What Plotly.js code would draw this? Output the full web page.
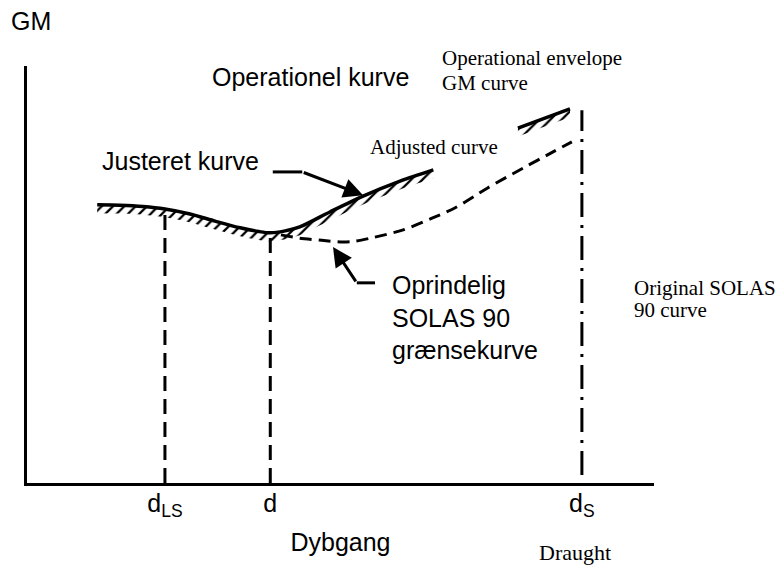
<!DOCTYPE html>
<html>
<head>
<meta charset="utf-8">
<script src="https://cdn.plot.ly/plotly-3.0.1.min.js"></script>
<style>html,body{margin:0;padding:0;background:#fff;}#chart{width:775px;height:566px;}</style>
</head>
<body>
<div id="chart"></div>
<script>
// Draught marks on the x axis
const draughtTicks = [2.2, 3.88, 8.85];
const tickLabels = ['d<sub>LS</sub>', 'd', 'd<sub>S</sub>'];
const markTops = [6.5, 5.92, 8.94];
const markBottoms = [0, 0, 0.19];

// Adjusted (operational) GM curve, two visible pieces
const adjX1 = [1.12, 1.48, 1.85, 2.2, 2.6, 3.0, 3.4, 3.7, 3.88, 4.1, 4.35, 4.83, 5.36, 5.95, 6.48];
const adjY1 = [6.67, 6.66, 6.63, 6.57, 6.45, 6.28, 6.12, 6.03, 6.0, 6.04, 6.14, 6.5, 6.88, 7.24, 7.51];
const adjX2 = [7.83, 8.26, 8.66];
const adjY2 = [8.51, 8.75, 8.97];

// Original SOLAS 90 limit curve
const origX = [4.05, 4.35, 4.7, 5.0, 5.2, 5.47, 6.0, 6.46, 6.83, 7.34, 7.91, 8.39, 8.69];
const origY = [5.95, 5.87, 5.82, 5.78, 5.79, 5.87, 6.07, 6.35, 6.6, 7.07, 7.55, 7.94, 8.18];

const SANS = 'Liberation Sans, Arial, Helvetica, sans-serif';
const SERIF = 'Liberation Serif, Times New Roman, serif';
const hatchDepth = 0.2;

const traces = [];
// vertical marks
draughtTicks.forEach((d, i) => {
  traces.push({
    type: 'scatter', mode: 'lines', x: [d, d], y: [markBottoms[i], markTops[i]],
    line: {color: 'black', width: 3, dash: i === 2 ? '24px,8px,3px,8px' : '15px,8px'},
    hoverinfo: 'skip'
  });
});
// original curve (dashed)
traces.push({
  type: 'scatter', mode: 'lines', x: origX, y: origY,
  line: {color: 'black', width: 3, dash: '12px,7px', shape: 'spline', smoothing: 0.8},
  hoverinfo: 'skip'
});
// adjusted curve pieces with hatching underneath
[[adjX1, adjY1], [adjX2, adjY2]].forEach(([xs, ys]) => {
  traces.push({
    type: 'scatter', mode: 'lines', x: xs, y: ys.map(v => v - hatchDepth),
    line: {width: 0, color: 'rgba(0,0,0,0)', shape: 'spline', smoothing: 0.8},
    hoverinfo: 'skip'
  });
  traces.push({
    type: 'scatter', mode: 'lines', x: xs, y: ys,
    line: {color: 'black', width: 3.5, shape: 'spline', smoothing: 0.8},
    fill: 'tonexty', fillcolor: 'rgba(0,0,0,0)',
    fillpattern: {shape: '/', size: 8, solidity: 0.28, fgcolor: 'black', bgcolor: 'rgba(255,255,255,0)'},
    hoverinfo: 'skip'
  });
});

function txt(text, x, y, size, family, ref) {
  return {
    text: text, x: x, y: y, xref: ref || 'x', yref: ref ? 'paper' : 'y', showarrow: false,
    xanchor: 'left', yanchor: 'middle', align: 'left',
    font: {family: family, size: size, color: 'black'}
  };
}

const annotations = [
  txt('GM', -0.0287, 1.108, 25, SANS, 'paper'),
  txt('Operationel kurve', 2.92, 9.74, 25, SANS),
  txt('Justeret kurve', 1.16, 7.72, 25, SANS),
  txt('Adjusted curve', 5.44, 8.06, 21, SERIF),
  txt('Operational envelope', 0.6587, 1.019, 21, SERIF, 'paper'),
  txt('GM curve', 6.59, 9.59, 21, SERIF),
  txt('Oprindelig<br>SOLAS 90<br>grænsekurve', 5.79, 3.96, 25, SANS),
  txt('Original SOLAS', 9.65, 4.68, 21, SERIF),
  txt('90 curve', 9.65, 4.15, 21, SERIF),
  txt('Draught', 0.8134, -0.166, 22, SERIF, 'paper'),
  {text: '', x: 5.36, y: 6.9, xref: 'x', yref: 'y', ax: 4.39, ay: 7.46, axref: 'x', ayref: 'y',
   showarrow: true, arrowhead: 2, arrowsize: 1.3, arrowwidth: 3, arrowcolor: 'black', standoff: 0, startstandoff: 0},
  {text: '', x: 4.88, y: 5.66, xref: 'x', yref: 'y', ax: 5.26, ay: 4.80, axref: 'x', ayref: 'y',
   showarrow: true, arrowhead: 2, arrowsize: 1.3, arrowwidth: 3, arrowcolor: 'black', standoff: 0, startstandoff: 0}
];

const shapes = [
  {type: 'line', xref: 'x', yref: 'y', x0: 3.92, y0: 7.46, x1: 4.39, y1: 7.46, line: {color: 'black', width: 3}},
  {type: 'line', xref: 'x', yref: 'y', x0: 5.26, y0: 4.80, x1: 5.55, y1: 4.80, line: {color: 'black', width: 3}}
];

const layout = {
  width: 775, height: 566,
  margin: {l: 27, r: 121, t: 66, b: 83, pad: 0},
  paper_bgcolor: 'white', plot_bgcolor: 'white',
  showlegend: false,
  xaxis: {
    range: [0, 10], showline: true, linewidth: 3, linecolor: 'black',
    showgrid: false, zeroline: false, ticks: '',
    tickvals: draughtTicks, ticktext: tickLabels,
    tickfont: {family: SANS, size: 25, color: 'black'},
    ticklabelstandoff: -4,
    title: {text: 'Dybgang', font: {family: SANS, size: 25, color: 'black'}, standoff: 14},
    automargin: false, fixedrange: true
  },
  yaxis: {
    range: [0, 10], showline: true, linewidth: 3, linecolor: 'black',
    showgrid: false, zeroline: false, ticks: '', showticklabels: false,
    automargin: false, fixedrange: true
  },
  annotations: annotations,
  shapes: shapes
};

Plotly.newPlot('chart', traces, layout, {staticPlot: true, displayModeBar: false});
</script>
</body>
</html>
